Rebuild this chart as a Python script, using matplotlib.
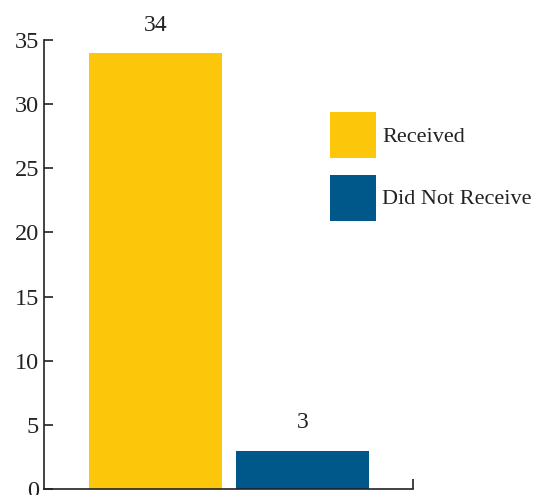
import matplotlib.pyplot as plt
from matplotlib.patches import Rectangle

# data
categories = ["Received", "Did Not Receive"]
values = [34, 3]
colors = ["#FCC70A", "#00578A"]
yticks = [0, 5, 10, 15, 20, 25, 30, 35]

plt.rcParams['font.family'] = ['Liberation Serif', 'DejaVu Serif']

W, H = 540, 495
fig = plt.figure(figsize=(5.4, 4.95), dpi=100)
ax = fig.add_axes([44 / W, 6 / H, 369 / W, 449 / H])

pos = list(range(len(values)))
ax.bar(pos, values, width=0.902, color=colors)

for p, v in zip(pos, values):
    ax.annotate(str(v), (p, v), xytext=(0, 20), textcoords="offset points",
                ha="center", va="center", fontsize=17, color="#222222")

ax.set_ylim(0, 35)
ax.set_xlim(-0.756, 1.746)
ax.set_yticks(yticks)
ax.set_xticks([1.746])
ax.set_xticklabels([])

for s in ["top", "right"]:
    ax.spines[s].set_visible(False)
for s in ["left", "bottom"]:
    ax.spines[s].set_linewidth(1.2)
    ax.spines[s].set_color("#222222")

ax.tick_params(axis="y", direction="in", length=6.5, width=1.2, color="#222222",
               labelsize=17.5, labelcolor="#222222", pad=3.5)
ax.tick_params(axis="x", direction="in", length=7, width=1.2, color="#222222")

# legend: big square swatches with labels
for i, (c, l) in enumerate(zip(colors, categories)):
    top = 112 + i * 63
    fig.patches.append(Rectangle((330 / W, 1 - (top + 46) / H), 46 / W, 46 / H,
                                 transform=fig.transFigure, facecolor=c, edgecolor="none"))
    fig.text(382 / W, 1 - (top + 25) / H, l, ha="left", va="center",
             fontsize=16, color="#222222")

fig.savefig("out.png", dpi=100)
